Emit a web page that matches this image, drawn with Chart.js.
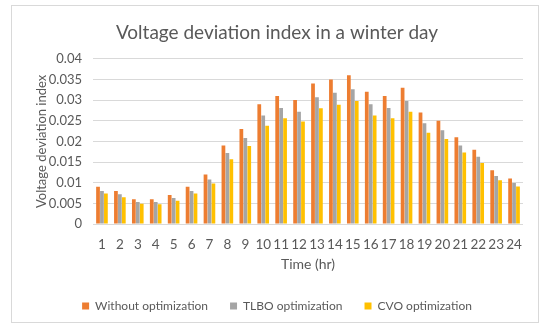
<!DOCTYPE html>
<html>
<head>
<meta charset="utf-8">
<script src="https://cdn.jsdelivr.net/npm/chart.js@4/dist/chart.umd.min.js"></script>
<style>
  html, body { margin: 0; padding: 0; background: #fff; }
  #wrap { position: relative; width: 550px; height: 333px; }
  #frame { position: absolute; left: 11px; top: 5px; width: 526px; height: 316px; border: 1px solid #d9d9d9; }
  canvas { position: absolute; left: 0; top: 0; }
</style>
</head>
<body>
<div id="wrap">
  <div id="frame"></div>
  <canvas id="vdiChart" width="550" height="333"></canvas>
</div>
<script>
const hours = ["1", "2", "3", "4", "5", "6", "7", "8", "9", "10", "11", "12",
               "13", "14", "15", "16", "17", "18", "19", "20", "21", "22", "23", "24"];

const withoutOpt = [0.009, 0.008, 0.006, 0.006, 0.007, 0.009, 0.012, 0.019, 0.023, 0.029, 0.031, 0.030,
                    0.034, 0.035, 0.036, 0.032, 0.031, 0.033, 0.027, 0.025, 0.021, 0.018, 0.013, 0.011];

const tlboOpt = [0.0080, 0.0072, 0.0053, 0.0053, 0.0063, 0.0080, 0.0108, 0.0172, 0.0208, 0.0263, 0.0281, 0.0272,
                 0.0307, 0.0318, 0.0326, 0.0290, 0.0281, 0.0298, 0.0244, 0.0227, 0.0190, 0.0163, 0.0116, 0.0099];

const cvoOpt = [0.0074, 0.0065, 0.0049, 0.0048, 0.0056, 0.0074, 0.0098, 0.0157, 0.0189, 0.0238, 0.0256, 0.0248,
                0.0280, 0.0289, 0.0298, 0.0263, 0.0256, 0.0272, 0.0221, 0.0206, 0.0173, 0.0148, 0.0106, 0.0091];

const textColor = "#595959";
const fontName = "Lato";

Chart.defaults.font.family = fontName;
Chart.defaults.color = textColor;

const barStyle = { categoryPercentage: 0.66, barPercentage: 0.95 };

new Chart(document.getElementById("vdiChart"), {
    type: "bar",
    data: {
        labels: hours,
        datasets: [
            { label: "Without optimization", data: withoutOpt, backgroundColor: "#ED7D31", ...barStyle },
            { label: "TLBO optimization", data: tlboOpt, backgroundColor: "#A5A5A5", ...barStyle },
            { label: "CVO optimization", data: cvoOpt, backgroundColor: "#FFC000", ...barStyle }
        ]
    },
    options: {
        responsive: false,
        animation: false,
        layout: { padding: { left: 31, right: 27, top: 5, bottom: 11 } },
        plugins: {
            title: {
                display: true,
                text: "Voltage deviation index in a winter day",
                font: { size: 19, weight: "normal" },
                color: textColor,
                padding: { top: 16, bottom: 15 }
            },
            legend: {
                position: "bottom",
                labels: {
                    boxWidth: 7,
                    boxHeight: 7,
                    padding: 22,
                    font: { size: 12 },
                    color: textColor
                }
            },
            tooltip: { enabled: false }
        },
        scales: {
            x: {
                grid: { display: false },
                border: { display: false },
                ticks: { padding: 5, font: { size: 13.5 }, maxRotation: 0, autoSkip: false },
                title: { display: true, text: "Time (hr)", font: { size: 14 }, padding: { top: 2, bottom: 5 } },
                afterFit: scale => { scale.height = 54; }
            },
            y: {
                min: 0,
                max: 0.04,
                grid: { color: "#d9d9d9", drawTicks: false },
                border: { display: false },
                ticks: {
                    stepSize: 0.005,
                    padding: 11,
                    font: { size: 13 },
                    callback: v => String(+v.toFixed(3))
                },
                title: { display: true, text: "Voltage deviation index", font: { size: 13 }, padding: { top: 3, bottom: 4 } },
                afterFit: scale => { scale.width = 62; }
            }
        }
    }
});
</script>
</body>
</html>
